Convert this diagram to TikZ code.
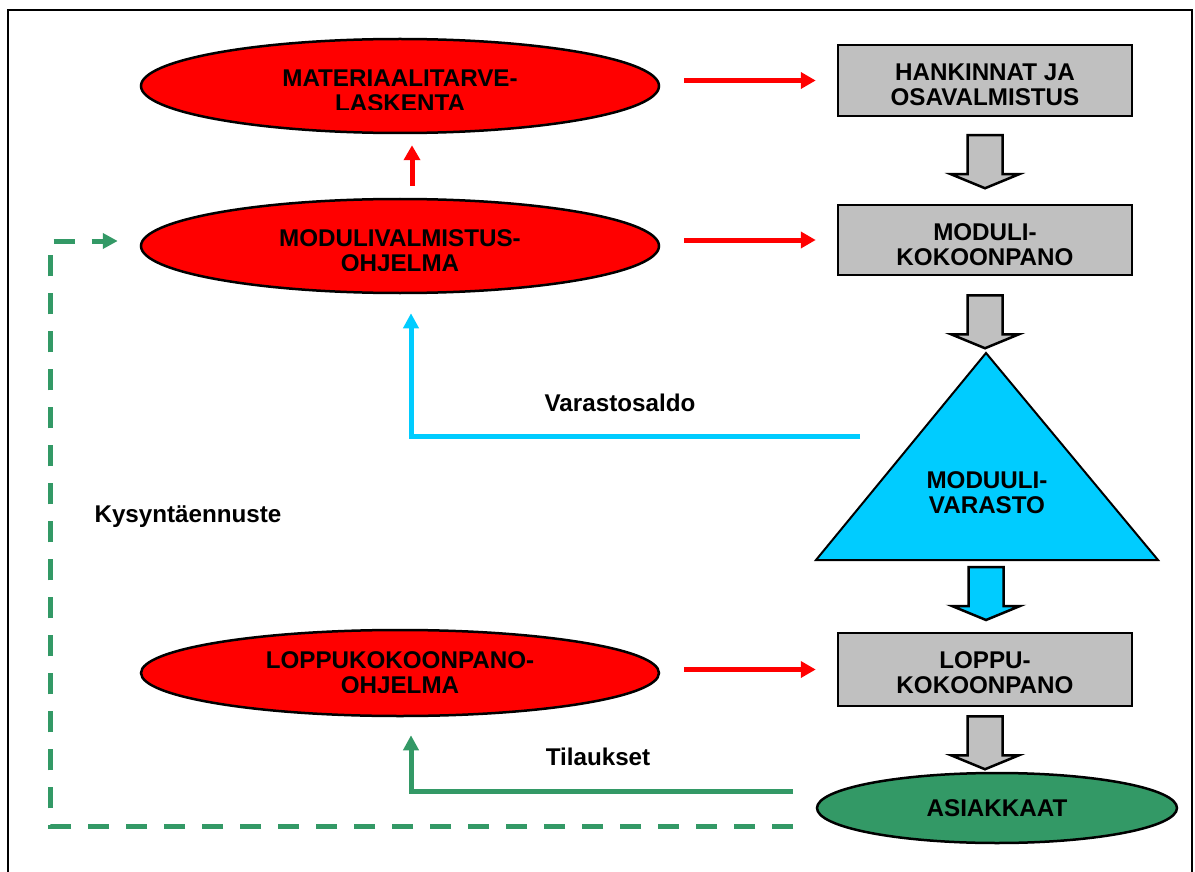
\documentclass[tikz,border=0pt]{standalone}
\usepackage{fontspec}
\setmainfont{Liberation Sans}
\usetikzlibrary{shapes.geometric,arrows.meta,calc}
\definecolor{boxgray}{RGB}{192,192,192}
\definecolor{stockcyan}{RGB}{0,204,255}
\definecolor{seagreen}{RGB}{51,153,102}

\tikzset{
  pics/blockdown/.style={code={
    \draw[line width=2.5pt, line join=miter, fill=#1]
      (-17.5,0) -- (17.5,0) -- (17.5,39) -- (34,39) -- (0,53)
      -- (-34,39) -- (-17.5,39) -- cycle;}},
}

\begin{document}
\begin{tikzpicture}[x=1pt,y=-1pt,
  every node/.style={font=\fontsize{24.2}{25}\selectfont\bfseries, text=black},
  plan/.style={ellipse, draw=black, line width=2.5pt, fill=red,
    minimum width=518pt, minimum height=94pt, inner sep=0pt},
  stage/.style={rectangle, draw=black, line width=2.5pt, fill=boxgray,
    minimum width=294pt, minimum height=71pt, inner sep=0pt},
  caption/.style={align=center, inner sep=0pt},
  planflow/.style={draw=red, line width=5pt,
    -{Triangle[length=15pt,width=16pt]}},
  stockflow/.style={draw=stockcyan, line width=5pt,
    -{Triangle[length=15pt,width=15pt]}},
  orderflow/.style={draw=seagreen, line width=5pt,
    -{Triangle[length=15pt,width=15pt]}},
  forecast/.style={draw=seagreen, line width=5pt, dash pattern=on 21pt off 17pt,
    -{Triangle[length=15pt,width=15pt]}},
]
\useasboundingbox (0,0) rectangle (1195,872);
\fill[white] (0,0) rectangle (1195,872);

% outer frame
\draw[line width=2.5pt] (8,10) rectangle (1192,900);

% planning ellipses; their text boxes cut off the foot of the last line
\node[plan] (mat) at (400,86) {};
\begin{scope}
  \clip (150,40) rectangle (650,110);
  \node[caption] at ($(mat.center)+(0,4.5)$) {MATERIAALITARVE-\\LASKENTA};
\end{scope}
\node[plan] (mod) at (400,246) {};
\begin{scope}
  \clip (150,200) rectangle (650,270.5);
  \node[caption] at ($(mod.center)+(0,5)$) {MODULIVALMISTUS-\\OHJELMA};
\end{scope}
\node[plan, minimum height=86pt] (lop) at (400,673) {};
\begin{scope}
  \clip (150,630) rectangle (650,692);
  \node[caption] at ($(lop.center)+(0,0)$) {LOPPUKOKOONPANO-\\OHJELMA};
\end{scope}

% production stages
\node[stage] (hank) at (985,80.5) {};
\node[caption] at ($(hank.center)+(0,4)$) {HANKINNAT JA\\OSAVALMISTUS};
\node[stage, minimum height=70pt] (kok) at (985,240) {};
\node[caption] at ($(kok.center)+(0,4.5)$) {MODULI-\\KOKOONPANO};
\node[stage, minimum height=73pt] (lkok) at (985,669.5) {};
\node[caption] at ($(lkok.center)+(0,3)$) {LOPPU-\\KOKOONPANO};

% module stock
\coordinate (apex) at (986,353);
\coordinate (baseL) at (816,560);
\coordinate (baseR) at (1158,560);
\draw[line width=2pt, line join=miter, fill=stockcyan] (baseL) -- (apex) -- (baseR) -- cycle;
\node[caption] (varasto) at (987,493) {MODUULI-\\VARASTO};

% customers
\node[ellipse, draw=black, line width=2.5pt, fill=seagreen, minimum width=360pt,
  minimum height=70pt, inner sep=0pt] (asi) at (997,808) {ASIAKKAAT};

% material flow
\pic at ($(hank.south)+(0,18)$) {blockdown=boxgray};
\pic at ($(kok.south)+(0,19)$) {blockdown=boxgray};
\pic at ($(baseL-|apex)+(0,7)$) {blockdown=stockcyan};
\pic at ($(lkok.south)+(0,9)$) {blockdown=boxgray};

% planning information flow
\draw[planflow] ($(mat.east|-hank.west)+(24,0)$) -- ($(hank.west)+(-21,0)$);
\draw[planflow] ($(mod.east|-kok.west)+(24,0)$) -- ($(kok.west)+(-21,0)$);
\draw[planflow] ($(lop.east|-lkok.west)+(24,0)$) -- ($(lkok.west)+(-21,0)$);
\draw[planflow] ($(mod.north)+(12,-12)$) -- ($(mat.south)+(12,11)$);

% stock balance feedback
\coordinate (stockout) at (860,436);
\draw[stockflow] (stockout) -| ($(mod.south)+(11,19)$);
\node[inner sep=0pt] (saldo) at (620,403) {Varastosaldo};

% orders
\coordinate (ordout) at (793,791);
\draw[orderflow] (ordout) -| ($(lop.south)+(11,18)$);
\node[inner sep=0pt] (til) at (598,757) {Tilaukset};

% demand forecast
\coordinate (fcout) at (793,826);
\coordinate (fcin) at ($(mod.west)+(-22,-5)$);
\draw[forecast] (fcout) -| ($(fcin)+(-67,0)$) -- (fcin);
\node[inner sep=0pt] (kys) at (188,517) {Kysyntäennuste};
\end{tikzpicture}
\end{document}
